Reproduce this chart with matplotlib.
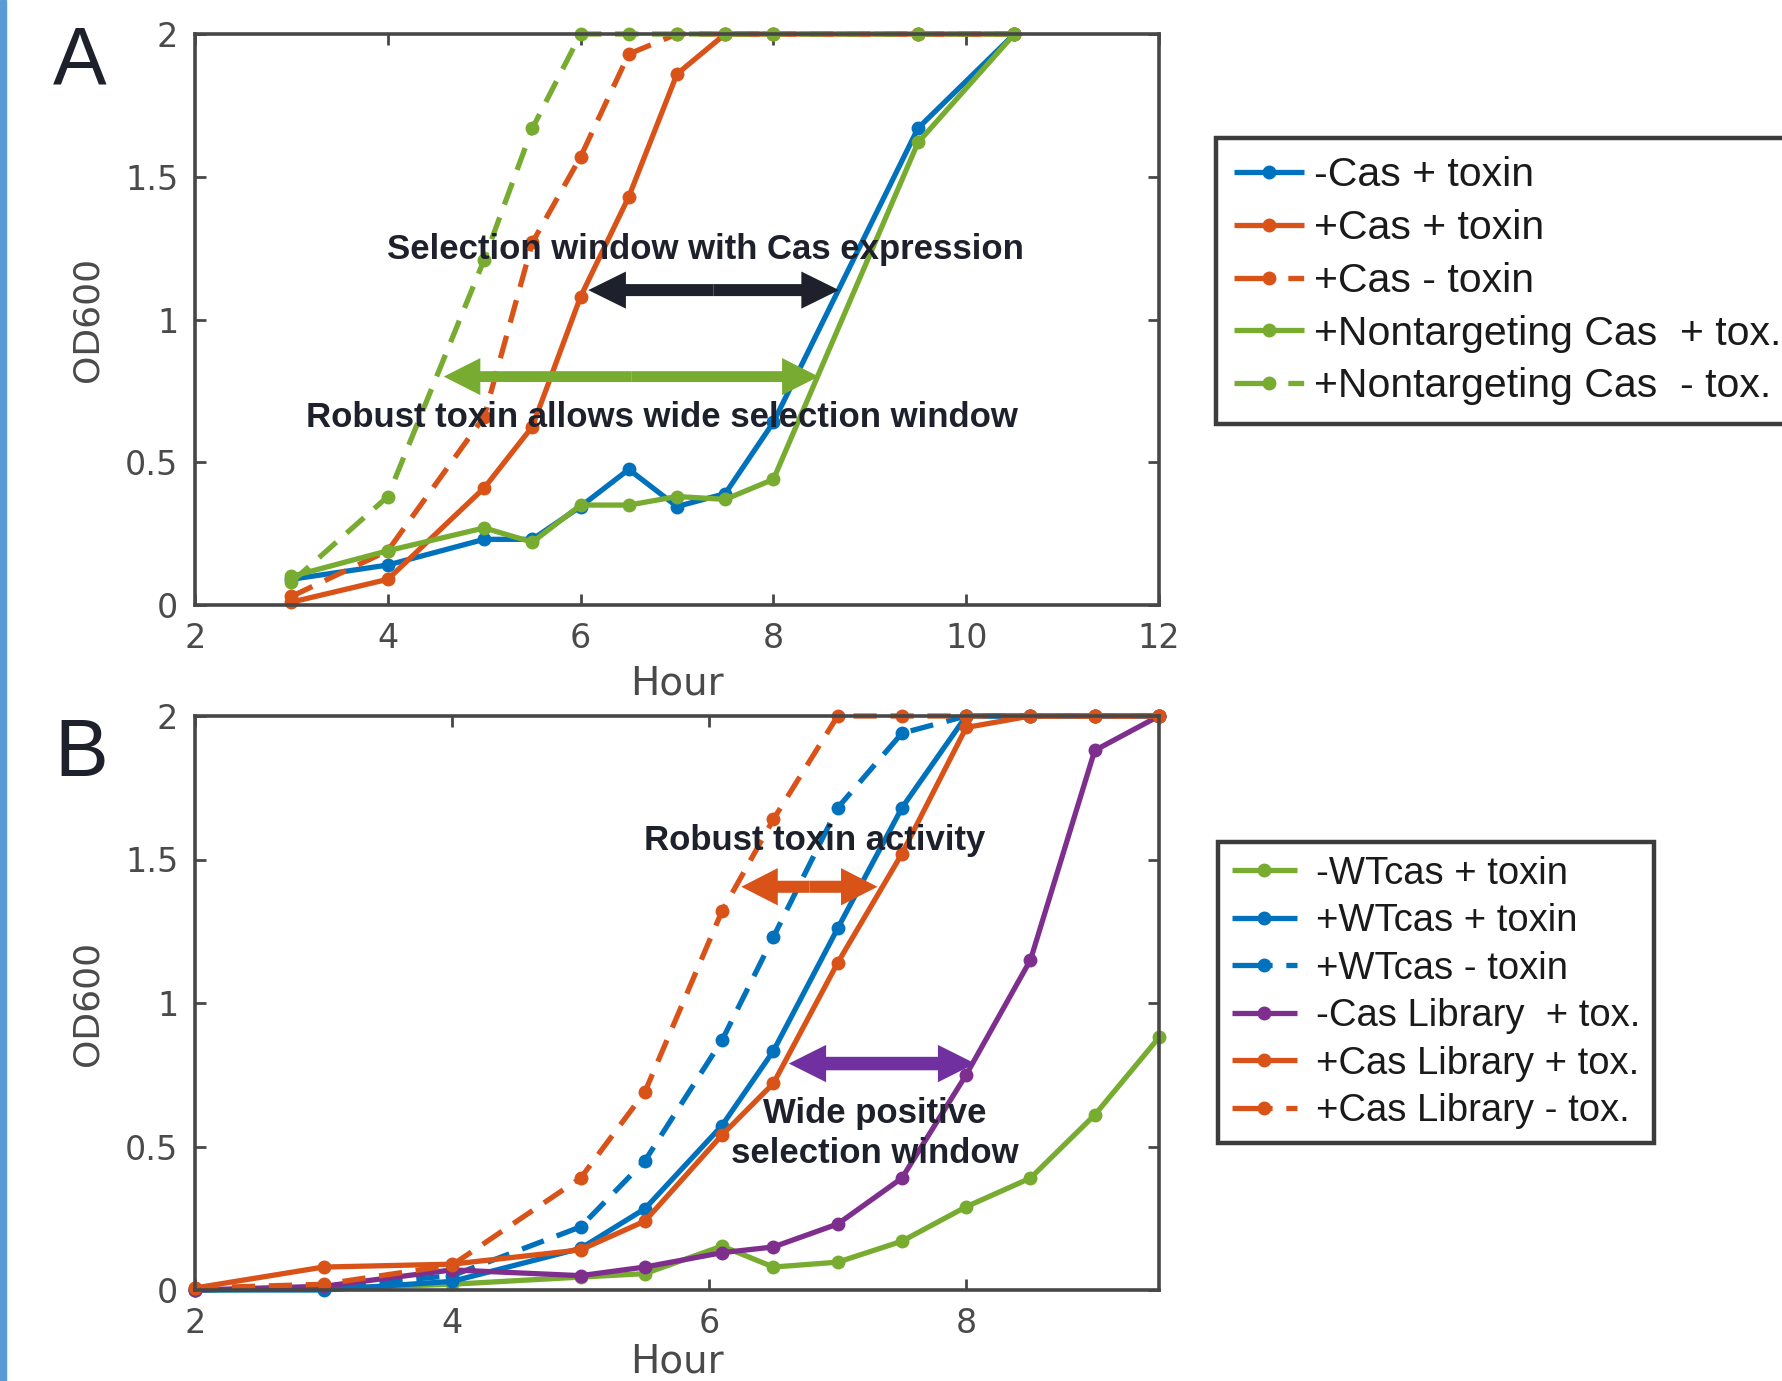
import matplotlib
matplotlib.use("Agg")
import matplotlib.pyplot as plt
from matplotlib.patches import Rectangle

# ---------------- data ----------------
hours_a = [3, 4, 5, 5.5, 6, 6.5, 7, 7.5, 8, 9.5, 10.5]
a_minus_cas_tox = [0.09, 0.14, 0.23, 0.23, 0.345, 0.475, 0.345, 0.39, 0.64, 1.67, 2.0]
a_plus_cas_tox = [0.01, 0.09, 0.41, 0.625, 1.08, 1.43, 1.86, 2.0, 2.0, 2.0, 2.0]
a_plus_cas_notox = [0.03, 0.19, 0.66, 1.27, 1.57, 1.93, 2.0, 2.0, 2.0, 2.0, 2.0]
a_nt_cas_tox = [0.10, 0.19, 0.27, 0.22, 0.35, 0.35, 0.38, 0.37, 0.44, 1.62, 2.0]
a_nt_cas_notox = [0.08, 0.38, 1.21, 1.67, 2.0, 2.0, 2.0, 2.0, 2.0, 2.0, 2.0]
labels_a = ["-Cas + toxin", "+Cas + toxin", "+Cas - toxin",
            "+Nontargeting Cas  + tox.", "+Nontargeting Cas  - tox."]

hours_b = [2, 3, 4, 5, 5.5, 6.1, 6.5, 7, 7.5, 8, 8.5, 9, 9.5]
b_minus_wt_tox = [0.0, 0.005, 0.02, 0.045, 0.057, 0.153, 0.08, 0.097, 0.17, 0.29, 0.39, 0.61, 0.88]
b_plus_wt_tox = [0.0, 0.0, 0.03, 0.145, 0.283, 0.573, 0.833, 1.26, 1.68, 2.0, 2.0, 2.0, 2.0]
b_plus_wt_notox = [0.0, 0.01, 0.05, 0.22, 0.45, 0.87, 1.23, 1.68, 1.94, 2.0, 2.0, 2.0, 2.0]
b_minus_lib_tox = [0.0, 0.013, 0.07, 0.05, 0.08, 0.13, 0.15, 0.23, 0.39, 0.75, 1.15, 1.88, 2.0]
b_plus_lib_tox = [0.007, 0.08, 0.09, 0.14, 0.24, 0.54, 0.72, 1.14, 1.52, 1.96, 2.0, 2.0, 2.0]
b_plus_lib_notox = [0.007, 0.02, 0.087, 0.39, 0.69, 1.32, 1.64, 2.0, 2.0, 2.0, 2.0, 2.0, 2.0]
labels_b = ["-WTcas + toxin", "+WTcas + toxin", "+WTcas - toxin",
            "-Cas Library  + tox.", "+Cas Library + tox.", "+Cas Library - tox."]

xticks_a = [2, 4, 6, 8, 10, 12]
xticks_b = [2, 4, 6, 8]
yticks = [0, 0.5, 1, 1.5, 2]
ytick_labels = ["0", "0.5", "1", "1.5", "2"]

BLUE = "#0072bd"
ORANGE = "#d95319"
GREEN = "#77ac30"
PURPLE = "#7e2f8e"
ARROW_PURPLE = "#7030a0"
DARK = "#1e212b"
AXC = "#474747"

LW = 3.8
MS = 9
DASH = (4.4, 2.6)
LEG_DASH = (7.6, 2.6, 3.0, 6.0)

fig = plt.figure(figsize=(17.82, 13.81), dpi=100)
fig.patches.append(Rectangle((0, 0), 6 / 1782, 1, transform=fig.transFigure,
                             color="#5b9bd5", zorder=0))

axA = fig.add_axes([195 / 1782, 1 - 605 / 1381, 964 / 1782, 571 / 1381])
axB = fig.add_axes([195 / 1782, 1 - 1290 / 1381, 964 / 1782, 574 / 1381])


def style_axes(ax, xticks, xlim):
    ax.set_xlim(*xlim)
    ax.set_ylim(0, 2)
    ax.set_xticks(xticks)
    ax.set_xticklabels([str(t) for t in xticks])
    ax.set_yticks(yticks)
    ax.set_yticklabels(ytick_labels)
    ax.tick_params(direction="in", length=8, width=2, colors=AXC,
                   top=True, right=True, labelsize=24, pad=12)
    for lab in ax.get_xticklabels() + ax.get_yticklabels():
        lab.set_family("DejaVu Sans")
        lab.set_color("#4a4a4a")
    for s in ax.spines.values():
        s.set_linewidth(2.6)
        s.set_color(AXC)
    ax.set_xlabel("Hour", fontsize=28, color="#4a4a4a", family="DejaVu Sans", va="center")
    ax.set_ylabel("OD600", fontsize=26, color="#4a4a4a", family="DejaVu Sans", va="center")


def plot_series(ax, x, y, color, dashed, label):
    kw = dict(color=color, lw=LW, marker="o", ms=MS, label=label,
              solid_capstyle="butt", dash_capstyle="butt", clip_on=False)
    ln, = ax.plot(x, y, **kw)
    if dashed:
        ln.set_dashes(DASH)
    return ln


def double_arrow(ax, x0, x1, y, color, shaft, head_w, head_l, z=6):
    xm = 0.5 * (x0 + x1)
    for xs, xe in ((xm, x1), (xm, x0)):
        ax.arrow(xs, y, xe - xs, 0, width=shaft, head_width=head_w,
                 head_length=head_l, length_includes_head=True,
                 color=color, lw=0, zorder=z)


def make_legend(ax, anchor, size, hl, htp, ls, bp):
    leg = ax.legend(loc="upper left", bbox_to_anchor=anchor,
                    bbox_transform=fig.transFigure,
                    prop={"family": "Liberation Sans", "size": size},
                    handlelength=hl, handletextpad=htp, labelspacing=ls,
                    borderpad=bp, borderaxespad=0, numpoints=1, fancybox=False,
                    frameon=True, edgecolor="#3c3c3c", framealpha=1)
    leg.get_frame().set_linewidth(3.2)
    for t in leg.get_texts():
        t.set_color("#1a1a1a")
    for h in leg.get_lines():
        if h.get_linestyle() not in ("-", "solid"):
            h.set_dashes(LEG_DASH)
    return leg


# ---------------- panel A ----------------
plot_series(axA, hours_a, a_minus_cas_tox, BLUE, False, labels_a[0])
plot_series(axA, hours_a, a_plus_cas_tox, ORANGE, False, labels_a[1])
plot_series(axA, hours_a, a_plus_cas_notox, ORANGE, True, labels_a[2])
plot_series(axA, hours_a, a_nt_cas_tox, GREEN, False, labels_a[3])
plot_series(axA, hours_a, a_nt_cas_notox, GREEN, True, labels_a[4])
style_axes(axA, xticks_a, (2, 12))
axA.xaxis.set_label_coords(0.5, -0.138)
axA.yaxis.set_label_coords(-0.111, 0.5)

double_arrow(axA, 6.08, 8.68, 1.103, DARK, 0.042, 0.13, 0.39)
double_arrow(axA, 4.58, 8.47, 0.80, GREEN, 0.038, 0.13, 0.38)
afont = dict(fontsize=25, fontweight="bold", color=DARK, family="Liberation Sans",
             ha="center", va="center", zorder=8)
axA.text(7.29, 1.245, "Selection window with Cas expression", **afont)
axA.text(6.84, 0.655, "Robust toxin allows wide selection window", **afont)

make_legend(axA, (1216 / 1782, 1 - 138 / 1381), 29.5, 1.7, 0.25, 0.36, 0.45)

fig.text(80 / 1782, 1 - 63 / 1381, "A", fontsize=58, family="Liberation Sans",
         color=DARK, ha="center", va="center")

# ---------------- panel B ----------------
plot_series(axB, hours_b, b_minus_wt_tox, GREEN, False, labels_b[0])
plot_series(axB, hours_b, b_plus_wt_tox, BLUE, False, labels_b[1])
plot_series(axB, hours_b, b_plus_wt_notox, BLUE, True, labels_b[2])
plot_series(axB, hours_b, b_minus_lib_tox, PURPLE, False, labels_b[3])
plot_series(axB, hours_b, b_plus_lib_tox, ORANGE, False, labels_b[4])
plot_series(axB, hours_b, b_plus_lib_notox, ORANGE, True, labels_b[5])
style_axes(axB, xticks_b, (2, 9.5))
axB.xaxis.set_label_coords(0.5, -0.124)
axB.yaxis.set_label_coords(-0.111, 0.5)

double_arrow(axB, 6.25, 7.31, 1.405, ORANGE, 0.042, 0.13, 0.284)
double_arrow(axB, 6.62, 8.07, 0.789, ARROW_PURPLE, 0.047, 0.13, 0.29)
axB.text(6.82, 1.565, "Robust toxin activity", **afont)
axB.text(7.29, 0.545, "Wide positive\nselection window", linespacing=1.3, **afont)

make_legend(axB, (1218 / 1782, 1 - 842 / 1381), 27.5, 1.7, 0.5, 0.30, 0.36)

fig.text(81 / 1782, 1 - 755 / 1381, "B", fontsize=58, family="Liberation Sans",
         color=DARK, ha="center", va="center")

fig.savefig("out.png", dpi=100, facecolor="white")
